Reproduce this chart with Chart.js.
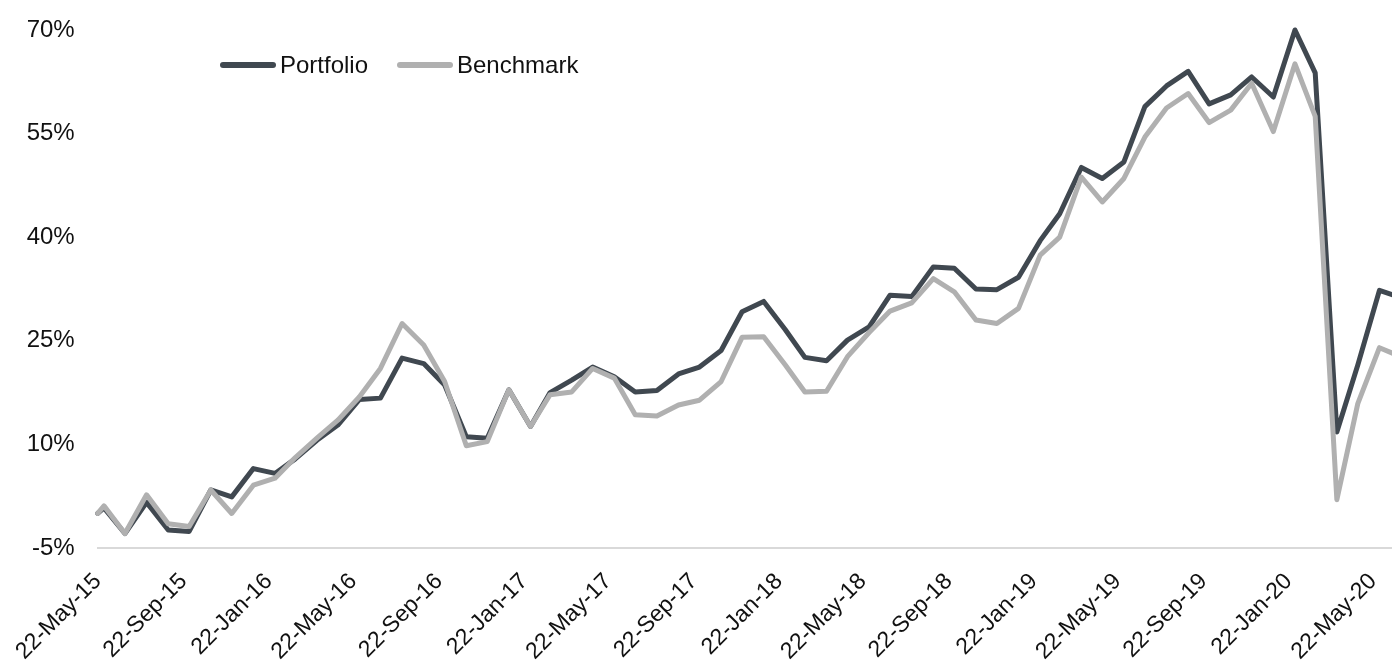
<!DOCTYPE html>
<html>
<head>
<meta charset="utf-8">
<script src="https://cdn.jsdelivr.net/npm/chart.js@4.4.1/dist/chart.umd.min.js"></script>
<style>
  html, body { margin: 0; padding: 0; background: #ffffff; }
  #wrap { position: relative; width: 1392px; height: 662px; }
  #chart { display: block; }
  .legend-item { position: absolute; top: 50px; height: 30px; display: flex; align-items: center;
    font-family: Arial, "Liberation Sans", sans-serif; font-size: 24px; color: #111111; white-space: nowrap; }
  .swatch { width: 56px; height: 6px; border-radius: 3px; margin-right: 4px; }
</style>
</head>
<body>
<div id="wrap">
  <canvas id="chart" width="1392" height="662"></canvas>
  <div id="legend"></div>
</div>
<script>
// ---------------- data ----------------
const startDate = '2015-05-22';
const axisEndDate = '2020-06-18';

const dates = [
  '2015-05-22','2015-05-31','2015-06-30','2015-07-31','2015-08-31','2015-09-30','2015-10-31','2015-11-30','2015-12-31',
  '2016-01-31','2016-02-29','2016-03-31','2016-04-30','2016-05-31','2016-06-30','2016-07-31','2016-08-31','2016-09-30','2016-10-31','2016-11-30','2016-12-31',
  '2017-01-31','2017-02-28','2017-03-31','2017-04-30','2017-05-31','2017-06-30','2017-07-31','2017-08-31','2017-09-30','2017-10-31','2017-11-30','2017-12-31',
  '2018-01-31','2018-02-28','2018-03-31','2018-04-30','2018-05-31','2018-06-30','2018-07-31','2018-08-31','2018-09-30','2018-10-31','2018-11-30','2018-12-31',
  '2019-01-31','2019-02-28','2019-03-31','2019-04-30','2019-05-31','2019-06-30','2019-07-31','2019-08-31','2019-09-30','2019-10-31','2019-11-30','2019-12-31',
  '2020-01-31','2020-02-29','2020-03-31','2020-04-30','2020-05-31','2020-06-30'
];

const portfolio = [
  0, 0.8, -2.9, 1.6, -2.4, -2.6, 3.4, 2.4, 6.5,
  5.8, 7.9, 10.6, 12.8, 16.5, 16.7, 22.5, 21.7, 18.6, 11.1, 10.9, 17.9,
  12.6, 17.5, 19.3, 21.2, 19.8, 17.6, 17.8, 20.2, 21.2, 23.6, 29.2, 30.7,
  26.6, 22.6, 22.1, 25.1, 27.0, 31.6, 31.4, 35.7, 35.5, 32.5, 32.4, 34.2,
  39.5, 43.4, 50.1, 48.5, 50.9, 58.9, 61.9, 64.0, 59.3, 60.6, 63.2, 60.3,
  70.0, 63.8, 11.8, 21.5, 32.3, 31.3
];

const benchmark = [
  0, 1.1, -2.9, 2.7, -1.5, -1.9, 3.4, 0.0, 4.1,
  5.1, 8.1, 10.9, 13.5, 16.9, 21.0, 27.5, 24.4, 19.1, 9.8, 10.4, 17.9,
  12.6, 17.2, 17.6, 21.0, 19.6, 14.3, 14.1, 15.7, 16.4, 19.1, 25.5, 25.6,
  21.5, 17.6, 17.7, 22.7, 26.2, 29.3, 30.5, 34.0, 32.1, 28.0, 27.5, 29.7,
  37.4, 40.0, 48.7, 45.1, 48.5, 54.5, 58.7, 60.8, 56.6, 58.4, 62.3, 55.3,
  65.1, 57.5, 2.0, 15.9, 24.0, 22.7
];

const xTickDates = [
  '2015-05-22','2015-09-22','2016-01-22','2016-05-22','2016-09-22','2017-01-22','2017-05-22','2017-09-22',
  '2018-01-22','2018-05-22','2018-09-22','2019-01-22','2019-05-22','2019-09-22','2020-01-22','2020-05-22'
];
const xTickLabels = [
  '22-May-15','22-Sep-15','22-Jan-16','22-May-16','22-Sep-16','22-Jan-17','22-May-17','22-Sep-17',
  '22-Jan-18','22-May-18','22-Sep-18','22-Jan-19','22-May-19','22-Sep-19','22-Jan-20','22-May-20'
];
const yTickValues = [-5, 10, 25, 40, 55, 70];

const seriesNames = ['Portfolio', 'Benchmark'];
const seriesColors = ['#404850', '#b0b0b0'];

// ---------------- helpers ----------------
const DAY = 86400000;
const t0 = Date.parse(startDate + 'T00:00:00Z');
const dayOf = s => (Date.parse(s + 'T00:00:00Z') - t0) / DAY;

const toPoints = vals => vals.map((v, i) => ({ x: dayOf(dates[i]), y: v }));

const FONT = 'Arial, "Liberation Sans", sans-serif';

// ---------------- legend (HTML) ----------------
const legendLefts = [220, 397];
const legendEl = document.getElementById('legend');
seriesNames.forEach((name, i) => {
  const item = document.createElement('div');
  item.className = 'legend-item';
  item.style.left = legendLefts[i] + 'px';
  const sw = document.createElement('span');
  sw.className = 'swatch';
  sw.style.background = seriesColors[i];
  const tx = document.createElement('span');
  tx.textContent = name;
  item.appendChild(sw);
  item.appendChild(tx);
  legendEl.appendChild(item);
});

// ---------------- chart ----------------
const seriesData = [portfolio, benchmark];
new Chart(document.getElementById('chart'), {
  type: 'line',
  data: {
    datasets: seriesNames.map((name, i) => ({
      label: name,
      data: toPoints(seriesData[i]),
      borderColor: seriesColors[i],
      backgroundColor: seriesColors[i],
      borderWidth: 5,
      pointRadius: 0,
      tension: 0,
      borderJoinStyle: 'round',
      borderCapStyle: 'round',
      clip: false,
      order: i === 0 ? 1 : 0
    }))
  },
  options: {
    responsive: false,
    animation: false,
    devicePixelRatio: 1,
    layout: { padding: { top: 30, right: 0, bottom: 0, left: 0 } },
    plugins: { legend: { display: false }, tooltip: { enabled: false }, title: { display: false } },
    scales: {
      x: {
        type: 'linear',
        min: 0,
        max: dayOf(axisEndDate),
        grid: { display: false, drawTicks: false },
        border: { display: true, color: '#d9d9d9', width: 2 },
        afterBuildTicks: scale => { scale.ticks = xTickDates.map(d => ({ value: dayOf(d) })); },
        afterFit: scale => { scale.height = 114; scale.paddingLeft = 0; scale.paddingRight = 0; },
        ticks: {
          autoSkip: false,
          maxRotation: 45,
          minRotation: 45,
          padding: 20,
          color: '#111111',
          font: { family: FONT, size: 23 },
          callback: (value, index) => xTickLabels[index]
        }
      },
      y: {
        min: -5,
        max: 70,
        grid: { display: false, drawTicks: false },
        border: { display: false },
        afterBuildTicks: scale => { scale.ticks = yTickValues.map(v => ({ value: v })); },
        afterFit: scale => { scale.width = 97.7; scale.paddingTop = 0; scale.paddingBottom = 0; },
        ticks: {
          padding: 23,
          color: '#111111',
          font: { family: FONT, size: 24 },
          callback: value => value + '%'
        }
      }
    }
  }
});
</script>
</body>
</html>
